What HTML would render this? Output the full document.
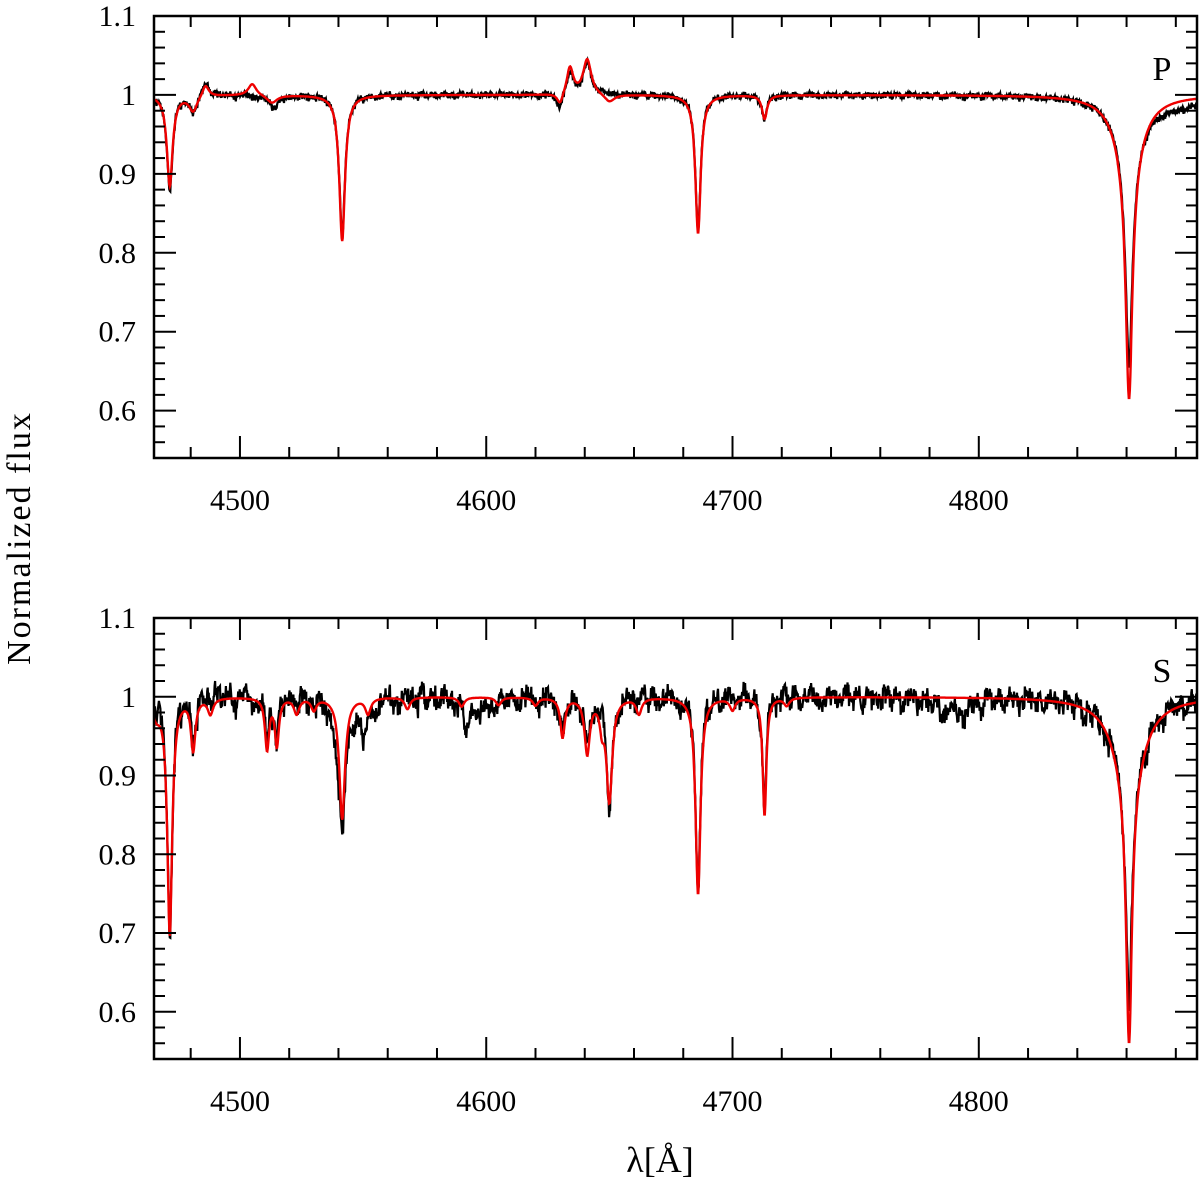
<!DOCTYPE html>
<html><head><meta charset="utf-8"><style>
html,body{margin:0;padding:0;background:#fff;}
svg text{font-family:"Liberation Serif",serif;fill:#000;}
</style></head><body>
<svg id="chart" width="1200" height="1192" viewBox="0 0 1200 1192" xmlns="http://www.w3.org/2000/svg">
<text x="0" y="0" font-size="34" text-anchor="middle" transform="translate(30,538) rotate(-90)" letter-spacing="2">Normalized flux</text>
<text x="660" y="1172" font-size="36" text-anchor="middle">λ[Å]</text>
</svg>
<script>
// ---- data ----
const xTicks = [4500, 4600, 4700, 4800];
const yTicks = [0.6, 0.7, 0.8, 0.9, 1, 1.1];
const yTickLabels = ["0.6", "0.7", "0.8", "0.9", "1", "1.1"];
// line lists: centre (Å), depth (negative = emission), width (Å)
const topModelCenters = [4471.5, 4481, 4486, 4505, 4513, 4541.5, 4630, 4634, 4641, 4650, 4686, 4713, 4861, 4861];
const topModelDepths  = [0.115, 0.02, -0.015, -0.015, 0.01, 0.185, 0.015, -0.035, -0.045, 0.01, 0.175, 0.03, 0.30, 0.085];
const topModelWidths  = [1.4, 2, 1.6, 2, 2.5, 1.4, 1.5, 1.6, 2, 2.5, 1.3, 1.2, 1.6, 6];
const topObsCenters = [4471.5, 4481, 4486, 4514, 4541.5, 4630, 4634, 4641, 4686, 4713, 4861, 4861, 4880];
const topObsDepths  = [0.12, 0.02, -0.018, 0.015, 0.18, 0.02, -0.03, -0.04, 0.17, 0.03, 0.26, 0.08, 0.012];
const topObsWidths  = [1.4, 2, 1.6, 2.5, 1.4, 1.5, 1.6, 2, 1.3, 1.2, 1.6, 6, 14];
const botModelCenters = [4466, 4471.5, 4481, 4511, 4515, 4541.5, 4552, 4568, 4605, 4631, 4641, 4647, 4650, 4662, 4686, 4713, 4861, 4861, 4488, 4523, 4530, 4590, 4620, 4700, 4722];
const botModelDepths  = [0.02, 0.30, 0.065, 0.065, 0.06, 0.155, 0.02, 0.015, 0.01, 0.05, 0.07, 0.03, 0.13, 0.02, 0.25, 0.15, 0.335, 0.105, 0.02, 0.02, 0.015, 0.012, 0.01, 0.015, 0.01];
const botModelWidths  = [2, 1.2, 1.1, 1, 1, 1.4, 1.3, 1.3, 1.3, 1.1, 1.3, 1.1, 1.4, 1.3, 1.2, 0.9, 1.4, 7, 1.3, 1.3, 1.3, 1.3, 1.3, 1.3, 1.3];
const botObsCenters = [4471.5, 4481, 4511, 4515, 4541.5, 4550, 4592, 4631, 4641, 4650, 4686, 4713, 4861, 4861, 4790, 4600, 4540];
const botObsDepths  = [0.30, 0.05, 0.05, 0.05, 0.15, 0.04, 0.04, 0.05, 0.06, 0.14, 0.24, 0.14, 0.30, 0.10, 0.02, 0.015, 0.03];
const botObsWidths  = [1.2, 1.1, 1, 1, 1.4, 3, 1.5, 1.1, 1.3, 1.4, 1.2, 0.9, 1.4, 7.5, 8, 6, 4];
// hand-typed noise pattern (relative flux), cycled along the observed spectra
const noisePattern = [0.4,-0.6,1.0,-0.2,0.7,-1.0,0.3,0.9,-0.5,-0.9,0.6,0.1,-0.3,1.0,-0.8,0.2,0.5,-0.4,-1.0,0.8,0.0,-0.7,0.9,0.3,-0.2,-0.6,0.7,-0.9,0.4,1.0,-0.1,-0.5,0.6,-0.8,0.2,0.8,-0.3];
const slowPattern = [0.3,-0.5,0.8,-0.2,0.6,-0.9,0.1,0.7,-0.4,-0.8,0.5,0.2,-0.6,0.9,-0.3,0.4,-0.7,0.6,0.0,-0.5,0.8,-0.1,0.3,-0.8,0.5];

// ---- axes ----
const X0=154, X1=1197, LMIN=4465.1, LMAX=4888.6, YMIN=0.54, YMAX=1.1;
const panels=[{top:16,bot:458,label:"P",name:"top"},{top:618,bot:1059,label:"S",name:"bottom"}];
const sx=l=>X0+(l-LMIN)/(LMAX-LMIN)*(X1-X0);
const mkY=p=>v=>p.bot-(v-YMIN)/(YMAX-YMIN)*(p.bot-p.top);
const svg=document.getElementById('chart');
const NS="http://www.w3.org/2000/svg";
function el(tag,attrs,parent){const e=document.createElementNS(NS,tag);for(const k in attrs)e.setAttribute(k,attrs[k]);(parent||svg).appendChild(e);return e;}

function model(l,C,D,W){let f=1;for(let i=0;i<C.length;i++){const u=(l-C[i])/W[i];f-=D[i]/(1+u*u);}return f;}
function obs(l,i,C,D,W,amp,samp){
  const n=noisePattern[i%noisePattern.length]*amp+noisePattern[(i*7+3)%noisePattern.length]*amp*0.5;
  const s=slowPattern[Math.floor(l/2.3)%slowPattern.length]*samp+slowPattern[Math.floor(l/0.9)%slowPattern.length]*samp*0.6;
  return model(l,C,D,W)+n+s;
}

panels.forEach((p,pi)=>{
  const sy=mkY(p);
  const g=el('g',{});
  
  
  const clipId='clip'+pi;
  const cp=el('clipPath',{id:clipId},g);el('rect',{x:X0,y:p.top,width:X1-X0,height:p.bot-p.top},cp);
  const C=pi?botObsCenters:topObsCenters,D=pi?botObsDepths:topObsDepths,W=pi?botObsWidths:topObsWidths;
  let d="";let i=0;
  for(let l=LMIN;l<=LMAX;l+=0.2,i++){d+=(i?"L":"M")+sx(l).toFixed(1)+","+sy(obs(l,i,C,D,W,pi?0.008:0.003,pi?0.011:0.002)).toFixed(1);}
  const po=el('path',{d:d,fill:'none',stroke:'#000','stroke-width':2.2,'clip-path':`url(#${clipId})`},g);
  
  
  const MC=pi?botModelCenters:topModelCenters,MD=pi?botModelDepths:topModelDepths,MW=pi?botModelWidths:topModelWidths;
  d="";i=0;
  for(let l=LMIN;l<=LMAX;l+=0.2,i++){d+=(i?"L":"M")+sx(l).toFixed(1)+","+sy(model(l,MC,MD,MW)).toFixed(1);}
  const pm=el('path',{d:d,fill:'none',stroke:'#e00','stroke-width':2.4,'clip-path':`url(#${clipId})`},g);
  
  
  const fr=el('rect',{x:X0,y:p.top,width:X1-X0,height:p.bot-p.top,fill:'none',stroke:'#000','stroke-width':2.5},g);
  
  
  for(let l=4480;l<LMAX;l+=20){const x=sx(l);const major=l%100===0;const len=major?22:11;
    el('line',{x1:x,x2:x,y1:p.bot,y2:p.bot-len,stroke:'#000','stroke-width':2},g);
    el('line',{x1:x,x2:x,y1:p.top,y2:p.top+len,stroke:'#000','stroke-width':2},g);}
  xTicks.forEach(t=>{const tx=el('text',{x:sx(t),y:p.bot+52,'font-size':30,'text-anchor':'middle'},g);tx.textContent=t;
    
    });
  for(let k=27;k<=55;k++){const v=k/50;const y=sy(v);const major=(k%5===0);const len=major?22:11;
    el('line',{x1:X0,x2:X0+len,y1:y,y2:y,stroke:'#000','stroke-width':2},g);
    el('line',{x1:X1,x2:X1-len,y1:y,y2:y,stroke:'#000','stroke-width':2},g);}
  yTicks.forEach((t,j)=>{const tx=el('text',{x:136,y:sy(t)+10,'font-size':30,'text-anchor':'end'},g);tx.textContent=yTickLabels[j];
    
    });
  const lb=el('text',{x:1162,y:p.top+64,'font-size':34,'text-anchor':'middle'},g);lb.textContent=p.label;
  
  
});
</script>
</body></html>
